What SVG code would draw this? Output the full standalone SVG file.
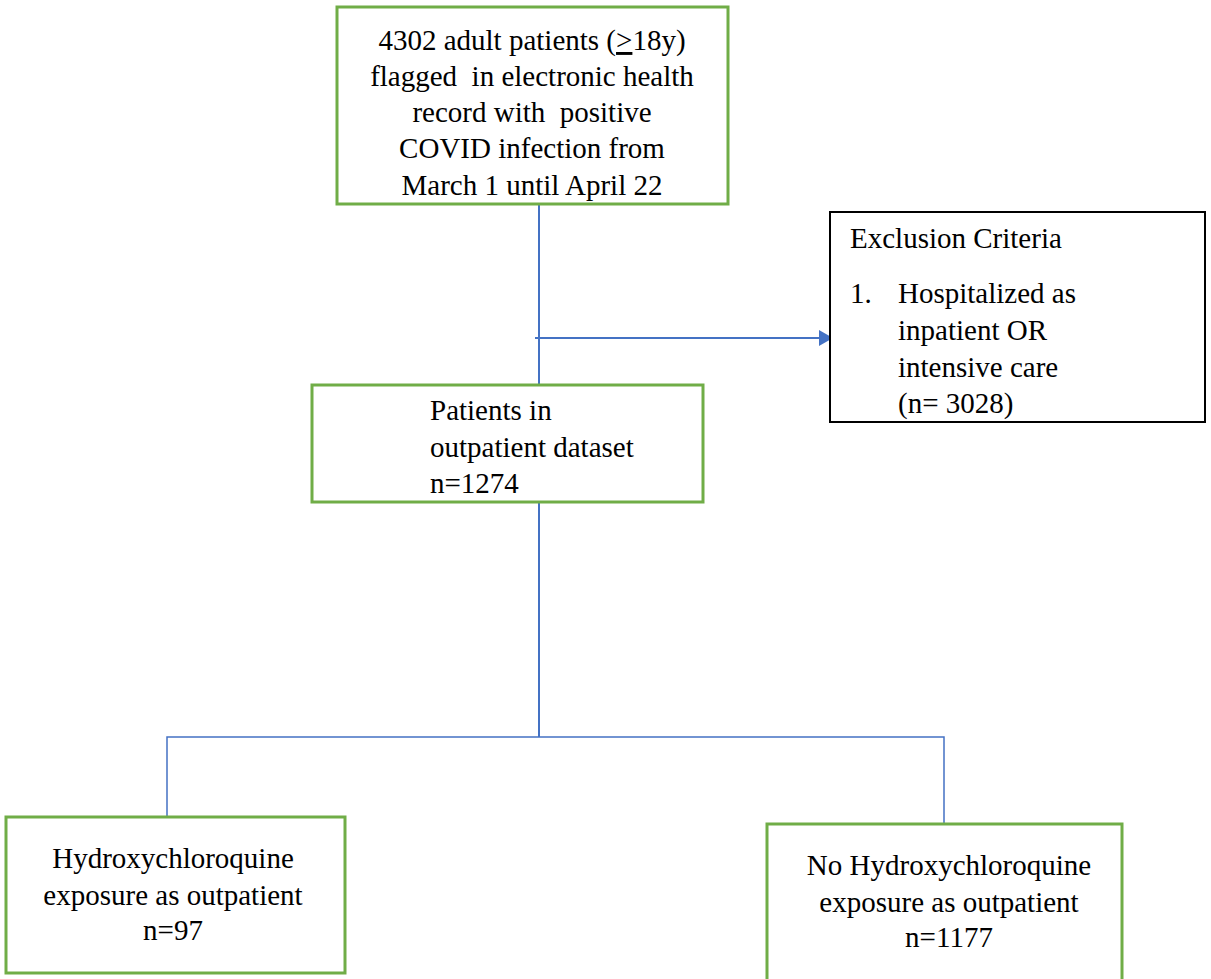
<svg xmlns="http://www.w3.org/2000/svg" width="1211" height="979" viewBox="0 0 1211 979">
<style>
.box{fill:#fff;stroke:#70AD47;stroke-width:3}
.bbox{fill:#fff;stroke:#000;stroke-width:2}
.t{font-family:'Liberation Serif','Times New Roman',serif;font-size:29px;fill:#000}
.c{text-anchor:middle}
.ln{stroke:#4472C4;fill:none}
</style>
<rect width="1211" height="979" fill="#fff"/>
<g id="connectors">
<line class="ln" stroke-width="2" x1="539" y1="204" x2="539" y2="385"/>
<line class="ln" stroke-width="2" x1="535" y1="338" x2="820" y2="338"/>
<path d="M819,330 L833,338 L819,346 Z" fill="#4472C4"/>
<line class="ln" stroke-width="2" x1="539" y1="502" x2="539" y2="737"/>
<path class="ln" stroke-width="1.5" d="M167,817 V737 H944 V824"/>
</g>
<g id="n1">
<rect class="box" x="337" y="7" width="391" height="197"/>
<text class="t c" x="532" y="50">4302 adult patients (<tspan text-decoration="underline">&gt;</tspan>18y)</text>
<text class="t c" x="532" y="86" xml:space="preserve">flagged  in electronic health</text>
<text class="t c" x="532" y="122" xml:space="preserve">record with  positive</text>
<text class="t c" x="532" y="158">COVID infection from</text>
<text class="t c" x="532" y="195">March 1 until April 22</text>
</g>
<g id="excl">
<rect class="bbox" x="830" y="212" width="375" height="210"/>
<text class="t" x="850" y="248">Exclusion Criteria</text>
<text class="t" x="850" y="303">1.</text>
<text class="t" x="898" y="303">Hospitalized as</text>
<text class="t" x="898" y="340">inpatient OR</text>
<text class="t" x="898" y="377">intensive care</text>
<text class="t" x="898" y="413">(n= 3028)</text>
</g>
<g id="n2">
<rect class="box" x="312" y="385" width="391" height="117"/>
<text class="t" x="430" y="420">Patients in</text>
<text class="t" x="430" y="457">outpatient dataset</text>
<text class="t" x="430" y="493">n=1274</text>
</g>
<g id="n3">
<rect class="box" x="6" y="817" width="339" height="156"/>
<text class="t c" x="173" y="868">Hydroxychloroquine</text>
<text class="t c" x="173" y="905">exposure as outpatient</text>
<text class="t c" x="173" y="940">n=97</text>
</g>
<g id="n4">
<rect class="box" x="767" y="824" width="355" height="170"/>
<text class="t c" x="949" y="875">No Hydroxychloroquine</text>
<text class="t c" x="949" y="912">exposure as outpatient</text>
<text class="t c" x="949" y="947">n=1177</text>
</g>
</svg>
